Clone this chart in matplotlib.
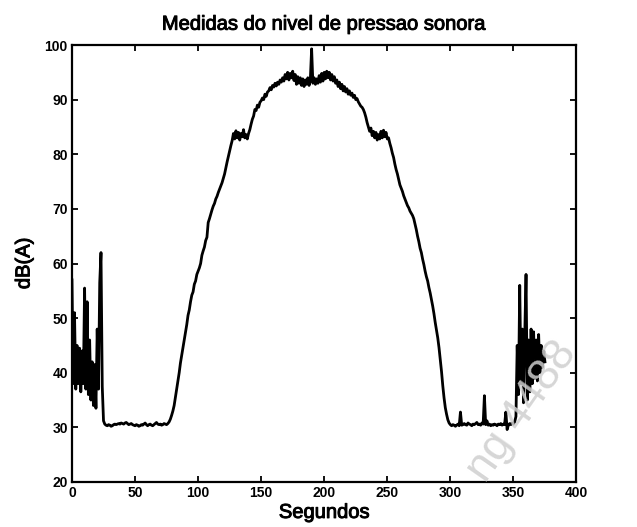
import numpy as np
import matplotlib
matplotlib.use("Agg")
import matplotlib.pyplot as plt
import matplotlib.patheffects as pe

plt.rcParams['font.family'] = ['Liberation Sans', 'DejaVu Sans']

# Sound pressure level, one reading per second, dB(A)
spl_start = [57, 38, 51, 37, 45, 38, 44.5, 36.5, 44, 38, 55.5, 37, 53, 36, 46, 35,
             42, 34, 41.5, 33.5, 48, 37, 56.5, 62, 37.5, 31.2]
spl_quiet1 = [30.6, 30.4, 30.3, 30.5, 30.4, 30.2, 30.3, 30.5, 30.6, 30.5, 30.6, 30.7,
              30.6, 30.8, 30.7, 30.6, 30.8, 30.9, 30.7, 30.5, 30.6, 30.7, 30.5, 30.4,
              30.3, 30.5, 30.4, 30.2, 30.3, 30.5, 30.4, 30.6, 30.8, 30.5, 30.3, 30.5,
              30.6, 30.4, 30.3, 30.5, 30.7, 30.9, 30.6, 30.5, 30.6, 30.4, 30.5, 30.7,
              30.6, 30.5, 30.7, 31.0, 31.5, 32.2]
spl_rise = [33.0, 34.0, 35.5, 37.0, 38.5, 40.0, 41.8, 43.2, 44.6, 46.0, 47.5, 48.8,
            50.5, 51.5, 53.0, 54.2, 54.8, 56.2, 56.8, 58.0, 58.6, 59.2, 60.0, 61.5,
            62.3, 63.0, 64.2, 64.8, 67.5, 68.2, 69.0, 69.8, 70.5, 71.0, 71.8, 72.3,
            73.0, 73.6, 74.2, 74.8, 75.6, 76.4, 77.5, 78.6, 79.6, 80.6, 81.6, 82.5,
            83.8, 82.8, 84.3, 83.0, 84.0, 82.6, 83.8, 83.2, 84.5, 83.0, 83.6, 82.8,
            83.8, 84.5, 85.5,
            86.4, 87.0, 88.2, 88.0, 89.0, 88.6, 89.5, 89.8, 90.3, 90.0, 91.0, 90.6,
            91.4, 91.6, 92.2, 91.8, 92.6, 92.3, 93.0, 92.5, 93.2, 92.8, 93.6, 93.2,
            94.0, 93.4, 94.6, 93.8, 95.0, 93.6, 94.8, 94.0, 95.2, 93.5, 94.6, 92.8,
            94.2, 93.0, 94.0, 92.6, 93.8, 92.4, 93.6, 92.8, 94.0, 92.6, 93.8]
spl_peak = [99.3, 93.0,
            94.0, 92.8, 93.8, 93.0, 94.4, 93.2, 94.8, 93.4, 95.0, 93.8, 95.2, 94.0,
            95.0, 93.6, 94.6, 93.4, 94.2, 93.0, 93.6, 92.4, 93.2, 92.0, 92.8, 91.6,
            92.4, 91.4, 92.0, 91.0, 91.6, 90.8, 91.2, 90.4, 90.8, 90.0, 90.2, 89.6,
            89.2, 88.8, 88.6, 88.2, 87.6, 86.8, 85.8, 85.0]
spl_fall = [84.2, 84.8, 83.4, 84.2, 83.0, 84.0, 82.6, 83.6, 82.8, 84.2, 83.0, 84.4,
            83.2, 84.0, 82.8, 83.0, 82.0,
            81.2, 80.2, 79.4, 78.2, 77.2, 76.4, 75.4, 74.4, 73.8, 73.2, 72.4, 71.8,
            71.2, 70.6, 70.2, 69.6, 69.2, 68.8, 68.2, 67.2, 66.2, 65.0, 64.0, 62.8,
            62.0, 60.8, 59.8, 58.6, 57.6, 56.8, 55.6, 54.6, 53.4, 52.2, 50.8, 49.2,
            47.8, 46.4, 44.6, 42.4, 40.2, 37.6, 35.4, 33.6, 32.4, 31.4, 30.8]
spl_quiet2 = [30.5, 30.3, 30.5, 30.4, 30.2, 30.4, 30.6, 30.3, 32.8, 30.4, 30.5, 30.7,
              30.5, 30.4, 30.8, 30.6, 30.5, 30.3, 30.6, 30.5, 30.7, 30.9, 30.5, 30.6,
              30.4, 30.8, 30.6, 35.8, 30.5, 31.2, 30.4, 30.6, 30.3, 30.5, 30.4, 30.6,
              30.5, 30.3, 30.6, 30.5, 30.7, 30.4, 30.6, 30.5, 32.8, 29.6, 30.4, 30.7,
              30.5, 30.8, 30.6, 31.0]
spl_end = [32, 45, 36, 56, 38, 48, 34.5, 47, 58, 35, 46, 36.5, 48, 38, 47.5, 39,
           46, 38.5, 47, 40, 45, 41, 44, 42]

spl = np.array(spl_start + spl_quiet1 + spl_rise + spl_peak + spl_fall
               + spl_quiet2 + spl_end)
seconds = np.arange(len(spl))

x_ticks = [0, 50, 100, 150, 200, 250, 300, 350, 400]
y_ticks = [20, 30, 40, 50, 60, 70, 80, 90, 100]

fig = plt.figure(figsize=(6.37, 5.27), dpi=100)
ax = fig.add_axes([0.113, 0.0854, 0.792, 0.8292])

ax.plot(seconds, spl, color='black', linewidth=2.0)

ax.set_xlim(0, 400)
ax.set_ylim(20, 100)
ax.set_xticks(x_ticks)
ax.set_yticks(y_ticks)
ax.tick_params(direction='in', length=4, width=1.3, top=True, right=True,
               labelsize=10, pad=3)
for lab in ax.get_xticklabels() + ax.get_yticklabels():
    lab.set_fontweight('bold')
for sp in ax.spines.values():
    sp.set_linewidth(1.6)

heavy = [pe.withStroke(linewidth=0.7, foreground='black')]
ax.set_title('Medidas do nivel de pressao sonora', fontsize=14.5, pad=11,
             path_effects=heavy)
ax.set_xlabel('Segundos', fontsize=14.5, labelpad=2, path_effects=heavy)
ax.set_ylabel('dB(A)', fontsize=14.5, labelpad=8, path_effects=heavy)

# faint diagonal stamp across the lower right
fig.text(0.82, 0.22, 'ng 4488', fontsize=32, color='#cfcfcf', alpha=0.85,
         rotation=55, ha='center', va='center', zorder=10)

fig.savefig('out.png', dpi=100)
